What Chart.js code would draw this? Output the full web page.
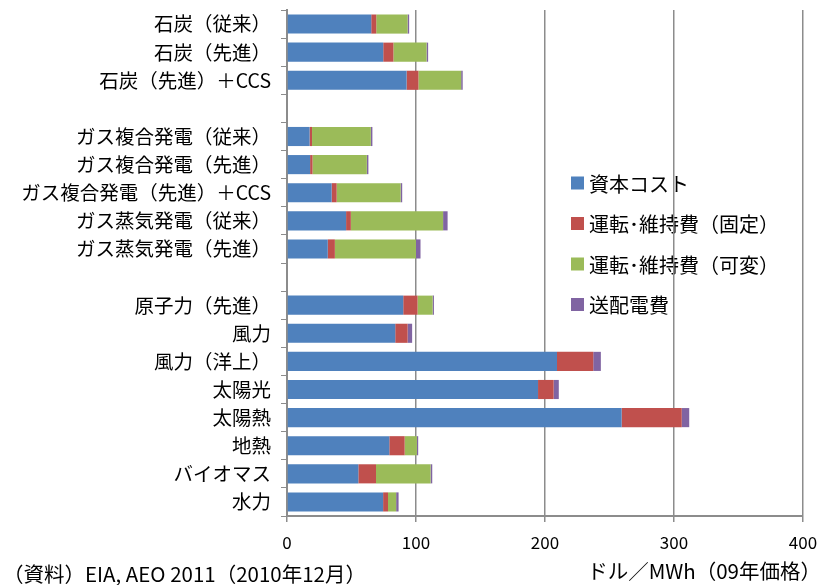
<!DOCTYPE html>
<html>
<head>
<meta charset="utf-8">
<script src="https://cdn.jsdelivr.net/npm/chart.js@4.4.1/dist/chart.umd.min.js"></script>
<style>
  html, body { margin: 0; padding: 0; background: #fff; }
  #wrap { position: relative; width: 822px; height: 585px; }
  .note { position: absolute; font-family: "Noto Sans CJK JP", sans-serif; font-size: 20.5px; color: #000; white-space: nowrap; line-height: 1; }
</style>
</head>
<body>
<div id="wrap">
  <canvas id="myChart" width="822" height="585"></canvas>
  <div class="note" style="left:3px; top:563px">（資料）EIA, AEO 2011（2010年12月）</div>
  <div class="note" style="right:1px; top:560px">ドル／MWh（09年価格）</div>
</div>
<script>
(function () {
  'use strict'

  // 電源別の均等化発電コスト（ドル/MWh、空欄はグループの区切り）
  var plants = [
    '石炭（従来）', '石炭（先進）', '石炭（先進）＋CCS', '',
    'ガス複合発電（従来）', 'ガス複合発電（先進）', 'ガス複合発電（先進）＋CCS',
    'ガス蒸気発電（従来）', 'ガス蒸気発電（先進）', '',
    '原子力（先進）', '風力', '風力（洋上）', '太陽光', '太陽熱', '地熱', 'バイオマス', '水力'
  ]
  var capital      = [65.3, 74.6, 92.7, null, 17.5, 17.9, 34.6, 45.8, 31.6, null, 90.1, 83.9, 209.3, 194.6, 259.4, 79.3, 55.3, 74.5]
  var fixedOM      = [3.9, 7.9, 9.2, null, 1.9, 1.9, 3.9, 3.7, 5.5, null, 11.1, 9.6, 28.1, 12.1, 46.6, 11.9, 13.7, 3.8]
  var variableOM   = [24.3, 25.7, 33.1, null, 45.6, 42.1, 49.6, 71.5, 62.9, null, 11.7, 0, 0, 0, 0, 9.5, 42.3, 6.3]
  var transmission = [1.2, 1.2, 1.2, null, 1.2, 1.2, 1.2, 3.5, 3.5, null, 1.0, 3.5, 5.9, 4.0, 5.8, 1.0, 1.3, 1.9]

  var xTicks = [0, 100, 200, 300, 400]

  var font = '"Noto Sans CJK JP", sans-serif'
  var axisGray = '#8c8c8c'

  // 凡例はプロット内の右側に描く（目盛線の下）
  var insideLegend = {
    id: 'insideLegend',
    beforeDraw: function (chart, args, opts) {
      var ctx = chart.ctx
      ctx.save()
      ctx.font = opts.size + 'px ' + font
      ctx.textBaseline = 'middle'
      chart.data.datasets.forEach(function (ds, i) {
        var y = opts.y + i * opts.gap
        ctx.fillStyle = ds.backgroundColor
        ctx.fillRect(opts.x, y - 6.5, 13, 13)
        ctx.fillStyle = '#000'
        ctx.fillText(ds.label, opts.x + 18, y + 1)
      })
      ctx.restore()
    }
  }

  var ctx = document.getElementById('myChart')
  const config = {
    type: 'bar',
    data: {
      labels: plants,
      datasets: [{
          label: '資本コスト',
          data: capital,
          backgroundColor: '#4f81bd'
      }, {
          label: '運転･維持費（固定）',
          data: fixedOM,
          backgroundColor: '#c0504d'
      }, {
          label: '運転･維持費（可変）',
          data: variableOM,
          backgroundColor: '#9bbb59'
      }, {
          label: '送配電費',
          data: transmission,
          backgroundColor: '#8064a2'
      }]
    },
    options: {
      indexAxis: 'y',
      responsive: false,
      animation: false,
      barPercentage: 0.68,
      categoryPercentage: 1,
      layout: {
        padding: { left: 0, right: 19, top: 10, bottom: 26 }
      },
      scales: {
        x: {
          stacked: true,
          min: 0,
          max: 400,
          afterBuildTicks: function (scale) {
            scale.ticks = xTicks.map(function (v) { return { value: v } })
          },
          afterFit: function (scale) {
            scale.height = 43
            scale.paddingLeft = 0
            scale.paddingRight = 0
          },
          grid: { color: axisGray, lineWidth: 1.5, tickLength: 6 },
          border: { color: axisGray, width: 2 },
          ticks: { color: '#000', font: { family: font, size: 17 }, padding: 10 }
        },
        y: {
          stacked: true,
          offset: true,
          afterFit: function (scale) {
            scale.width = 287
            scale.paddingTop = 0
            scale.paddingBottom = 0
          },
          grid: { drawOnChartArea: false, offset: true, color: axisGray, tickLength: 6 },
          border: { color: axisGray, width: 2 },
          ticks: { color: '#000', font: { family: font, size: 19.5 }, padding: 10, autoSkip: false }
        }
      },
      plugins: {
        legend: { display: false },
        tooltip: { enabled: false },
        insideLegend: { x: 571, y: 183, gap: 40.5, size: 20 }
      }
    },
    plugins: [insideLegend]
  }
  var barChart = new Chart(ctx, config)

})()
</script>
</body>
</html>
